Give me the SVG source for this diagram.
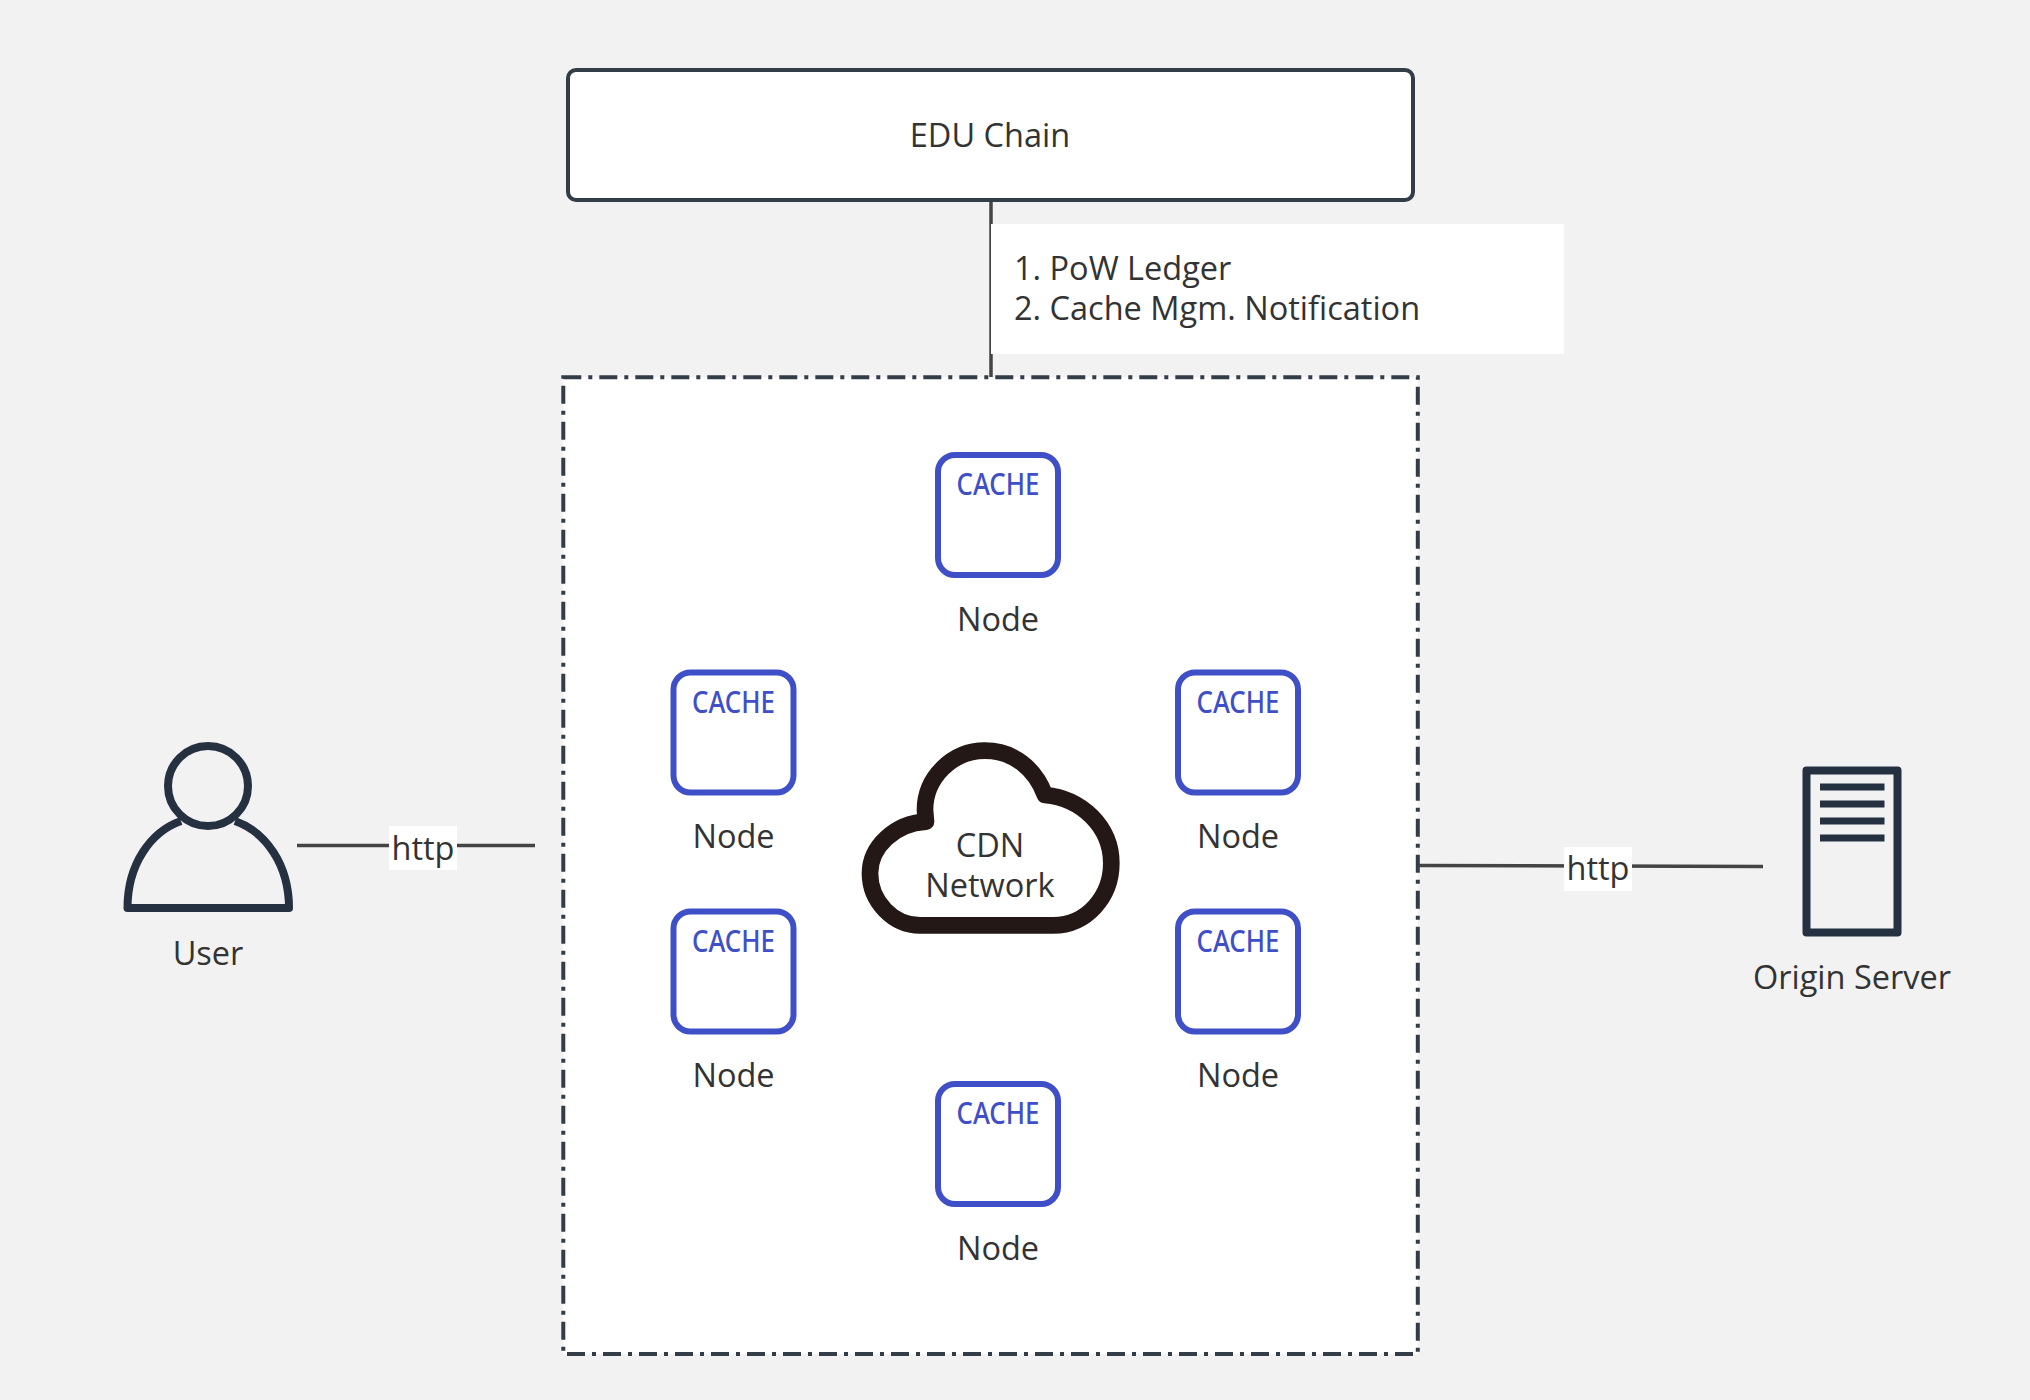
<svg xmlns="http://www.w3.org/2000/svg" width="2030" height="1400" viewBox="0 0 2030 1400">
<style>
text{font-family:"Open Sans","Noto Sans","Liberation Sans",sans-serif;font-size:32.5px;fill:#333;text-anchor:middle}
.cache-box{fill:#fff;stroke:#3f4fc8;stroke-width:6}
.cache{font-family:"Noto Sans","Liberation Sans",sans-serif;font-size:30px;font-weight:500;fill:#3f4fc8}
.icon{fill:none;stroke:#253140;stroke-width:8;stroke-linejoin:round}
.bar{fill:#253140}
.conn{fill:none;stroke:#444;stroke-width:3.5}
.lbl{fill:#fff}
</style>
<defs>
<g id="cacheNode">
<rect class="cache-box" x="3" y="3" width="120" height="120" rx="17"/>
<text class="cache" x="63" y="43" textLength="83" lengthAdjust="spacingAndGlyphs">CACHE</text>
<text x="63" y="178.500">Node</text>
</g>
</defs>
<rect width="2030" height="1400" fill="#f2f2f2"/>
<g id="cdn-boundary"><rect x="563.300" y="377.300" width="854.500" height="976.700" fill="#fff" stroke="#333d47" stroke-width="4" stroke-dasharray="18 7 4 7"/></g>
<g id="connectors">
<path class="conn" d="M991 200V377"/>
<path class="conn" d="M297 845.500H535"/>
<path class="conn" d="M1419 865.500L1763 866.500"/>
</g>
<g id="edu-chain"><rect x="568" y="70" width="845" height="130" rx="8" fill="#fff" stroke="#333d47" stroke-width="4"/><text x="990" y="147">EDU Chain</text></g>
<g id="label-chain"><rect class="lbl" x="991" y="224" width="573" height="130"/><text x="1014" y="280" style="text-anchor:start">1. PoW Ledger</text><text x="1014" y="320" style="text-anchor:start">2. Cache Mgm. Notification</text></g>
<g id="label-http-user"><rect class="lbl" x="389" y="826" width="68" height="44"/><text x="423" y="860">http</text></g>
<g id="label-http-origin"><rect class="lbl" x="1564" y="847" width="68" height="44"/><text x="1598" y="880">http</text></g>
<g id="node-top"><use href="#cacheNode" x="935" y="452"/></g>
<g id="node-upper-left"><use href="#cacheNode" x="670.500" y="669.500"/></g>
<g id="node-upper-right"><use href="#cacheNode" x="1175" y="669.500"/></g>
<g id="node-lower-left"><use href="#cacheNode" x="670.500" y="908.500"/></g>
<g id="node-lower-right"><use href="#cacheNode" x="1175" y="908.500"/></g>
<g id="node-bottom"><use href="#cacheNode" x="935" y="1081"/></g>
<g id="cdn-network">
<path transform="translate(840 720) scale(.3333)" fill="#fff" stroke="#231815" stroke-width="50" stroke-linejoin="round" d="M240 616H640C740 616 814 530 814 430C814 320 725 235 615 225C585 145 520 92 435 92C335 92 255 175 255 270L258 305C165 310 90 380 90 460C90 545 160 616 240 616Z"/>
<text x="990" y="857">CDN</text><text x="990" y="897">Network</text>
</g>
<g id="user">
<circle class="icon" cx="208" cy="786" r="40"/>
<path class="icon" d="M181 821C150 832 127.500 865 127.500 908H289C289 865 266 832 235 821"/>
<text x="208" y="965">User</text>
</g>
<g id="origin-server">
<rect class="icon" x="1806.500" y="770.500" width="91" height="162"/>
<rect class="bar" x="1820" y="783.500" width="64.500" height="7"/>
<rect class="bar" x="1820" y="800.500" width="64.500" height="7"/>
<rect class="bar" x="1820" y="817.500" width="64.500" height="7"/>
<rect class="bar" x="1820" y="834.500" width="64.500" height="7"/>
<text x="1852" y="989">Origin Server</text>
</g>
</svg>
